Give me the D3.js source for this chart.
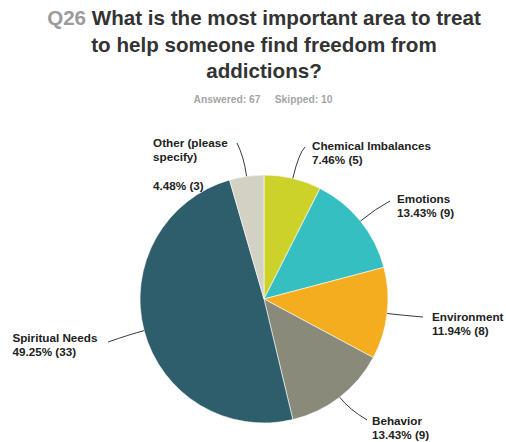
<!DOCTYPE html>
<html>
<head>
<meta charset="utf-8">
<script src="https://cdn.jsdelivr.net/npm/d3@7"></script>
<style>
  html, body { margin: 0; padding: 0; background: #fff; }
  svg { display: block; font-family: "Liberation Sans", Arial, Helvetica, sans-serif; }
</style>
</head>
<body>
<svg id="chart" width="506" height="442"></svg>
<script>
// Survey answers, in clockwise order starting at 12 o'clock
const categories = ["Chemical Imbalances", "Emotions", "Environment", "Behavior", "Spiritual Needs", "Other (please specify)"];
const counts = [5, 9, 8, 9, 33, 3];
const percents = [7.46, 13.43, 11.94, 13.43, 49.25, 4.48];
const colors = ["#cdd22b", "#35bfc1", "#f4ad1f", "#8a8a7a", "#2e5d6b", "#d3d0c4"];
const answered = 67;
const skipped = 10;

const svg = d3.select("#chart");
const LABEL_SIZE = 11.7;

// Title, with the question number in grey
const titleLines = [
  [["Q26 ", "#9b9b9b"], ["What is the most important area to treat", "#333333"]],
  [["to help someone find freedom from", "#333333"]],
  [["addictions?", "#333333"]]
];
const title = svg.append("text")
  .attr("text-anchor", "middle")
  .attr("font-size", 20.6)
  .attr("font-weight", "bold");
titleLines.forEach((line, i) => {
  line.forEach(([s, c], j) => {
    const ts = title.append("tspan").text(s).attr("fill", c);
    if (j === 0) ts.attr("x", 264).attr("y", 25 + i * 26.5);
  });
});

svg.append("text")
  .attr("x", 263).attr("y", 103)
  .attr("text-anchor", "middle")
  .attr("font-size", 10.3)
  .attr("font-weight", "bold")
  .attr("fill", "#a6a6a6")
  .attr("xml:space", "preserve")
  .text(`Answered: ${answered}     Skipped: ${skipped}`);

// Pie
const cx = 264, cy = 299, R = 124;
const g = svg.append("g").attr("transform", `translate(${cx},${cy})`);

const data = categories.map((c, i) => ({ name: c, count: counts[i], pct: percents[i], color: colors[i] }));
const pie = d3.pie().value(d => d.pct).sort(null);
const arcs = pie(data);
const arc = d3.arc().innerRadius(0).outerRadius(R);

g.selectAll("path.slice")
  .data(arcs)
  .join("path")
  .attr("class", "slice")
  .attr("d", arc)
  .attr("fill", d => d.data.color)
  .attr("stroke", "#ffffff")
  .attr("stroke-width", 0.6);

// Leader lines and labels: curve control radius offset, line end (from centre), text offset from line end
const leaders = [
  { ctrl: 26, end: [41, -152], text: [7, 3], anchor: "start", lines: ["Chemical Imbalances", "{p}"] },
  { ctrl: 20, end: [126, -98], text: [7, 2], anchor: "start", lines: ["Emotions", "{p}"] },
  { ctrl: 15, end: [159, 18], text: [9, 4], anchor: "start", lines: ["Environment", "{p}"] },
  { ctrl: 15, end: [103, 121], text: [5, 5], anchor: "start", lines: ["Behavior", "{p}"] },
  { ctrl: 15, end: [-156, 43], text: [-10, 0], anchor: "end", lines: ["Spiritual Needs", "{p}"] },
  { ctrl: 20, end: [-27, -156], text: [-6, 4], anchor: "end", lines: ["Other (please ", "specify)"] }
];

const fmt = d => `${d.pct.toFixed(2)}% (${d.count})`;

arcs.forEach((a, i) => {
  const L = leaders[i];
  const mid = (a.startAngle + a.endAngle) / 2;
  const p0 = [R * Math.sin(mid), -R * Math.cos(mid)];
  const pc = [(R + L.ctrl) * Math.sin(mid), -(R + L.ctrl) * Math.cos(mid)];
  const path = d3.path();
  path.moveTo(p0[0], p0[1]);
  path.quadraticCurveTo(pc[0], pc[1], L.end[0], L.end[1]);
  g.append("path")
    .attr("d", path.toString())
    .attr("fill", "none")
    .attr("stroke", "#3a3a3a")
    .attr("stroke-width", 1);

  const t = g.append("text")
    .attr("font-size", LABEL_SIZE)
    .attr("font-weight", "bold")
    .attr("fill", "#222")
    .attr("text-anchor", "start");
  const lines = L.lines.map(s => s === "{p}" ? fmt(a.data) : s);
  const x0 = L.end[0] + L.text[0];
  const y0 = L.end[1] + L.text[1];
  lines.forEach((s, k) => {
    t.append("tspan").attr("x", x0).attr("y", y0 + k * 13.5).text(s);
  });
  let left = x0;
  if (L.anchor === "end") {
    // the block sits left of the leader, left-aligned lines
    const w = t.node().getBBox().width;
    left = x0 - w;
    t.selectAll("tspan").attr("x", left);
  }
  if (i === 5) {
    // percentage for this slice sits lower, just above the pie
    g.append("text")
      .attr("font-size", LABEL_SIZE)
      .attr("font-weight", "bold")
      .attr("fill", "#222")
      .attr("x", left)
      .attr("y", 190 - cy)
      .text(fmt(a.data));
  }
});
</script>
</body>
</html>
